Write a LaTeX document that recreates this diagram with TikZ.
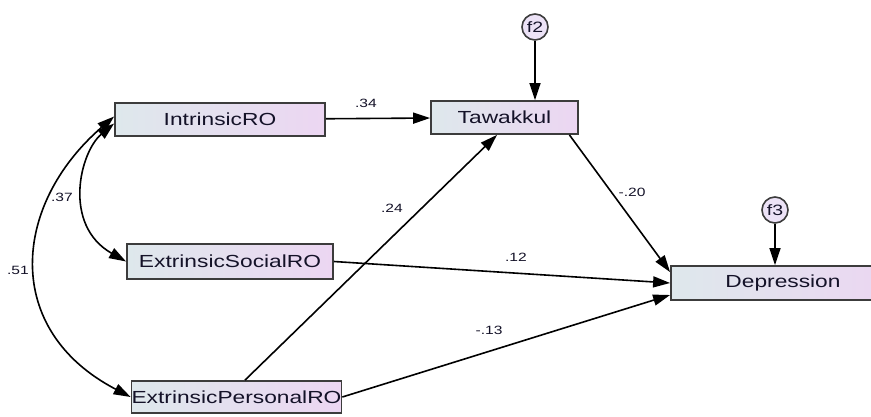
\documentclass[tikz,border=0pt]{standalone}
\usepackage{fontspec}
\newfontfamily\amosfont[FakeStretch=1.3]{Liberation Sans}
\usetikzlibrary{arrows.meta, positioning, calc}
\definecolor{boxleft}{RGB}{222,232,236}
\definecolor{boxright}{RGB}{236,214,242}
\definecolor{errfill}{RGB}{236,226,246}
\definecolor{edgegray}{RGB}{60,60,60}
\definecolor{txtdark}{RGB}{20,18,40}

\tikzset{
  observed/.style={draw=edgegray, line width=1.8pt, left color=boxleft, right color=boxright,
    minimum height=33pt, inner sep=0pt, text=txtdark, font=\amosfont\fontsize{17.5}{19}\selectfont},
  errvar/.style={circle, draw=edgegray, line width=1.6pt, fill=errfill, minimum size=26pt,
    inner sep=0pt, text=txtdark, font=\amosfont\fontsize{15}{16}\selectfont},
  regarrow/.style={draw, line width=1.6pt, -{Triangle[length=17pt,width=11pt]}},
  covarrow/.style={draw, line width=1.6pt, {Triangle[length=17pt,width=11pt]}-{Triangle[length=17pt,width=11pt]}},
  coef/.style={inner sep=0pt, text=txtdark, font=\amosfont\fontsize{12}{13}\selectfont}
}

\begin{document}
\begin{tikzpicture}[x=1pt, y=-1pt]
  \useasboundingbox (0,0) rectangle (871,416);

  % observed variables
  \node[observed, minimum width=210pt] (intr) at (220,119.5) {IntrinsicRO};
  \node[observed, minimum width=206pt, minimum height=35pt] (esoc) at (230,261.5) {ExtrinsicSocialRO};
  \node[observed, minimum width=207pt, minimum height=32pt] (epers) at (236.5,397) {ExtrinsicPersonalRO};
  \node[observed, minimum width=147pt] (taw) at (504.5,117.5) {Tawakkul};
  \node[observed, minimum width=224pt, minimum height=34pt] (depr) at (783,283) {Depression};

  % residuals
  \node[errvar] (f2) at (535,27) {f2};
  \node[errvar] (f3) at (775,210) {f3};

  % regression paths
  \draw[regarrow] (intr) -- (taw);
  \draw[regarrow] ([xshift=8.5pt]epers.north) -- ([xshift=-7.5pt]taw.south);
  \draw[regarrow] ([xshift=-9.5pt]taw.south east) -- ([yshift=-7pt]depr.north west);
  \draw[regarrow] (esoc.east) -- (depr.west);
  \draw[regarrow] (epers.east) -- ([yshift=-12pt]depr.west);
  \draw[regarrow] (f2) -- (f2 |- taw.north);
  \draw[regarrow] (f3) -- (f3 |- depr.north);

  % covariances
  \draw[covarrow] ([yshift=-4pt]intr.west) .. controls (80,152) and (62,225) .. (esoc.west);
  \draw[covarrow] ([yshift=3pt]intr.west) .. controls (12,205) and (2,330) .. (epers.west);

  % estimates
  \node[coef] (c34) at (366,103) {.34};
  \node[coef] (c24) at (392,208) {.24};
  \node[coef] (c20) at (632,192) {-.20};
  \node[coef] (c12) at (516,257) {.12};
  \node[coef] (c13) at (489,330) {-.13};
  \node[coef] (c37) at (62,197) {.37};
  \node[coef] (c51) at (18,270) {.51};
\end{tikzpicture}
\end{document}
